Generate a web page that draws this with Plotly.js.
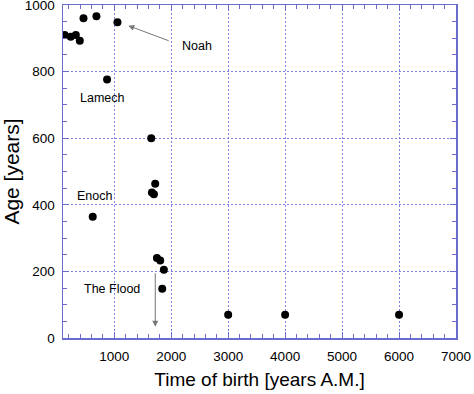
<!DOCTYPE html>
<html><head><meta charset="utf-8">
<script src="https://cdn.plot.ly/plotly-3.0.1.min.js"></script>
<style>html,body{margin:0;padding:0;background:#fff}#chart{width:474px;height:394px}</style>
</head><body><div id="chart"></div>
<script>
// Time of birth [years A.M.] and age [years]
const birthYears = [130, 235, 325, 395, 460, 622, 687, 874, 1056, 1649, 1661, 1696, 1719, 1749, 1807, 1842, 1871, 3000, 4000, 6000];
const ages       = [910, 905, 910, 893, 960, 364, 966, 776, 948, 600, 437, 432, 463, 240, 233, 148, 205, 70, 70, 70];
const xTicks = [1000, 2000, 3000, 4000, 5000, 6000, 7000];
const yTicks = [0, 200, 400, 600, 800, 1000];

const axisColor = '#6b6bcc';
const gridColor = '#7f7fdd';

const trace = {
  x: birthYears, y: ages, type: 'scatter', mode: 'markers',
  marker: {color: '#000', size: 8}, hoverinfo: 'skip'
};

const axisCommon = {
  ticks: 'inside', ticklen: 6, tickcolor: axisColor, tickwidth: 1,
  showline: true, linecolor: axisColor, linewidth: 1.5, mirror: 'allticks',
  showgrid: true, gridcolor: gridColor, griddash: '2px,2px', gridwidth: 1,
  zeroline: false, tickfont: {size: 13.5}, ticklabeloverflow: 'allow'
};

const layout = {
  width: 474, height: 394,
  margin: {l: 63, r: 18, t: 5, b: 56},
  paper_bgcolor: '#fff', plot_bgcolor: '#fff',
  font: {family: 'Liberation Sans, Arial, sans-serif', color: '#000'},
  showlegend: false,
  xaxis: Object.assign({}, axisCommon, {
    range: [100, 7000], tickvals: xTicks, ticktext: xTicks.map(String),
    ticklabelstandoff: 5, automargin: false,
    minor: {dtick: 200, tick0: 0, ticks: 'inside', ticklen: 4, tickcolor: axisColor, showgrid: false},
    title: {text: 'Time of birth [years A.M.]', font: {size: 19}, standoff: 10}
  }),
  yaxis: Object.assign({}, axisCommon, {
    range: [0, 1000], tickvals: yTicks, ticktext: yTicks.map(String),
    ticklabelstandoff: 4, automargin: false,
    minor: {dtick: 50, tick0: 0, ticks: 'inside', ticklen: 4, tickcolor: axisColor, showgrid: false},
    title: {text: 'Age [years]', font: {size: 21}, standoff: 11}
  }),
  annotations: [
    {x: 1246, y: 938, ax: 1982, ay: 891, axref: 'x', ayref: 'y', xref: 'x', yref: 'y',
     text: '', showarrow: true, arrowhead: 2, arrowsize: 1.2, arrowwidth: 1, arrowcolor: '#777'},
    {x: 2456, y: 878, xref: 'x', yref: 'y', text: 'Noah', showarrow: false, font: {size: 12.5}},
    {x: 800, y: 722, xref: 'x', yref: 'y', text: 'Lamech', showarrow: false, font: {size: 12.5}},
    {x: 645, y: 426, xref: 'x', yref: 'y', text: 'Enoch', showarrow: false, font: {size: 12.5}},
    {x: 956, y: 148, xref: 'x', yref: 'y', text: 'The Flood', showarrow: false, font: {size: 12.5}},
    {x: 1720, y: 34, ax: 1720, ay: 199, axref: 'x', ayref: 'y', xref: 'x', yref: 'y',
     text: '', showarrow: true, arrowhead: 2, arrowsize: 1.2, arrowwidth: 1, arrowcolor: '#777'}
  ]
};

Plotly.newPlot('chart', [trace], layout, {staticPlot: true, displayModeBar: false});
</script></body></html>
